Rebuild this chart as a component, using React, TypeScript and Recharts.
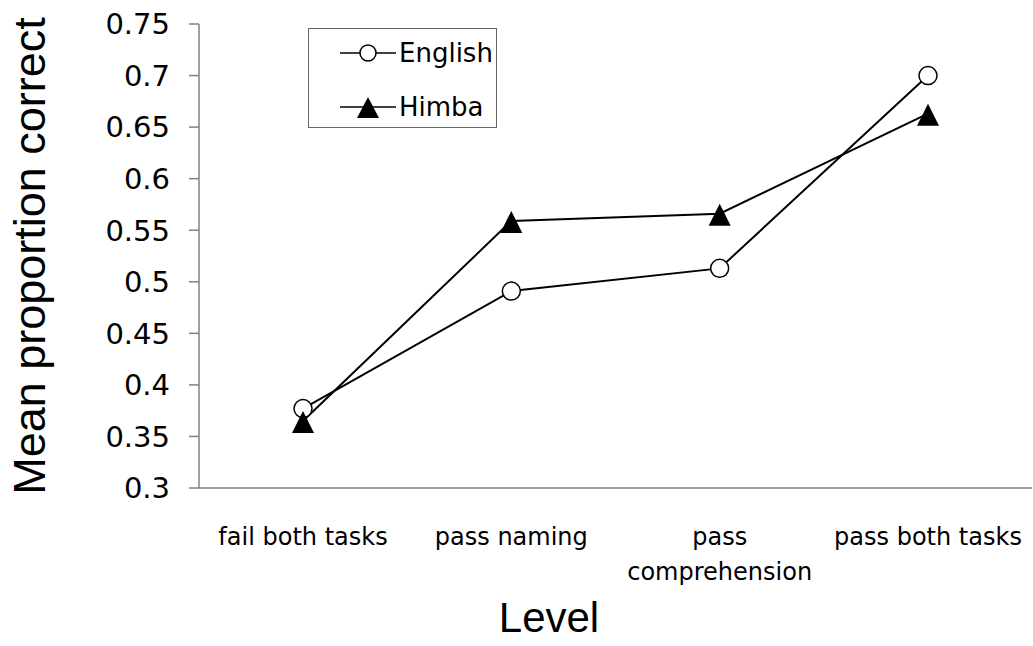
import { Line, LineChart, XAxis, YAxis } from "recharts";

const levels = ["fail both tasks", "pass naming", "pass\ncomprehension", "pass both tasks"];
const english = [0.377, 0.491, 0.513, 0.7];
const himba = [0.365, 0.559, 0.566, 0.663];
const yTicks = [0.3, 0.35, 0.4, 0.45, 0.5, 0.55, 0.6, 0.65, 0.7, 0.75];

const data = levels.map((level, i) => ({ level, english: english[i], himba: himba[i] }));

const TICK_FONT = "'DejaVu Sans', sans-serif";
const TITLE_FONT = "'Liberation Sans', Arial, sans-serif";

function CircleDot(props: any) {
  const { cx, cy } = props;
  if (cx == null || cy == null) return null;
  return <circle cx={cx} cy={cy} r={9} fill="#fff" stroke="#000" strokeWidth={1.5} />;
}

function TriangleDot(props: any) {
  const { cx, cy } = props;
  if (cx == null || cy == null) return null;
  return <polygon points={`${cx},${cy - 10} ${cx + 11},${cy + 12} ${cx - 11},${cy + 12}`} fill="#000" />;
}

function LevelTick(props: any) {
  const { x, y, payload } = props;
  const lines = String(payload.value).split("\n");
  return (
    <g>
      {lines.map((line, i) => (
        <text key={i} x={x} y={y + 49 + i * 35} textAnchor="middle" fontFamily={TICK_FONT} fontSize={24} fill="#000">
          {line}
        </text>
      ))}
    </g>
  );
}

function LegendBox() {
  return (
    <div
      style={{
        position: "absolute",
        left: 308,
        top: 28,
        width: 189,
        height: 100,
        border: "1.5px solid #666",
        background: "#fff",
        boxSizing: "border-box"
      }}
    >
      <svg width={186} height={97} style={{ display: "block" }}>
        <line x1={31} x2={87} y1={24} y2={24} stroke="#000" strokeWidth={1.5} />
        <circle cx={59} cy={24} r={8} fill="#fff" stroke="#000" strokeWidth={1.5} />
        <text x={90} y={33} fontFamily={TICK_FONT} fontSize={26} fill="#000">English</text>
        <line x1={31} x2={87} y1={78} y2={78} stroke="#000" strokeWidth={1.5} />
        <polygon points="59,68 70,89 48,89" fill="#000" />
        <text x={90} y={87} fontFamily={TICK_FONT} fontSize={26} fill="#000">Himba</text>
      </svg>
    </div>
  );
}

export default function App() {
  return (
    <div style={{ position: "absolute", left: 0, top: 0, width: 1033, height: 646, background: "#fff" }}>
      <LineChart width={1033} height={646} data={data} margin={{ top: 24, right: 1, bottom: 0, left: 0 }}>
        <XAxis
          dataKey="level"
          height={158}
          padding={{ left: 104, right: 104 }}
          tickLine={false}
          axisLine={{ stroke: "#808080", strokeWidth: 1.5 }}
          tick={<LevelTick />}
          interval={0}
          label={{
            content: () => (
              <text x={549} y={632} textAnchor="middle" fontFamily={TITLE_FONT} fontSize={42} fill="#000">
                Level
              </text>
            )
          }}
        />
        <YAxis
          width={199}
          domain={[0.3, 0.75]}
          ticks={yTicks}
          tickSize={10}
          tickMargin={19}
          tickFormatter={(v: number) => String(+v.toFixed(2))}
          tick={{ fontFamily: TICK_FONT, fontSize: 29, fill: "#000" }}
          tickLine={{ stroke: "#808080", strokeWidth: 1.5 }}
          axisLine={{ stroke: "#808080", strokeWidth: 1.5 }}
          label={{
            content: () => (
              <text
                x={45}
                y={256}
                transform="rotate(-90 45 256)"
                textAnchor="middle"
                fontFamily={TITLE_FONT}
                fontSize={45}
                fill="#000"
              >
                Mean proportion correct
              </text>
            )
          }}
        />
        <Line dataKey="english" name="English" stroke="#000" strokeWidth={2} dot={<CircleDot />} isAnimationActive={false} />
        <Line dataKey="himba" name="Himba" stroke="#000" strokeWidth={2} dot={<TriangleDot />} isAnimationActive={false} />
      </LineChart>
      <LegendBox />
    </div>
  );
}
